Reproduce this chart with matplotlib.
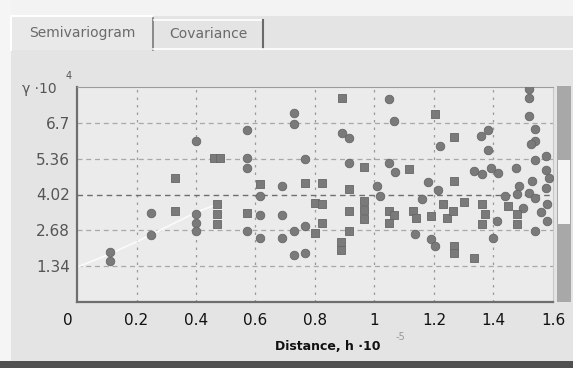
import matplotlib
matplotlib.use("Agg")
import matplotlib.pyplot as plt
from matplotlib.patches import Rectangle
import matplotlib.transforms as mtransforms

# Empirical semivariogram points (distance in 1e5, gamma in 1e4)
circ_h = [0.11, 0.11, 0.25, 0.25, 0.40, 0.40, 0.40, 0.40,
          0.57, 0.57, 0.57, 0.57, 0.615, 0.615, 0.615,
          0.69, 0.69, 0.69, 0.73, 0.73, 0.765, 0.73, 0.765, 0.73, 0.765,
          0.89, 0.915, 0.915, 1.01, 1.02, 1.05, 1.065, 1.05, 1.07,
          1.137, 1.18, 1.22, 1.215, 1.19, 1.205, 1.16,
          1.333, 1.357, 1.383, 1.383, 1.36, 1.39, 1.415, 1.413, 1.40, 1.44,
          1.475, 1.485, 1.48, 1.518, 1.518, 1.518, 1.54, 1.54, 1.525,
          1.54, 1.575, 1.575, 1.53, 1.585, 1.575, 1.52, 1.54, 1.58,
          1.58, 1.54, 1.50, 1.56]
circ_g = [1.88, 1.52, 3.33, 2.50, 6.03, 3.29, 2.96, 2.66,
          6.44, 5.39, 5.02, 2.66, 3.97, 3.25, 2.40,
          4.34, 3.26, 2.40, 7.07, 6.64, 5.35, 2.66, 2.84, 1.76, 1.83,
          6.33, 6.12, 5.20, 4.34, 3.95, 7.60, 6.75, 5.20, 4.88,
          2.54, 4.50, 5.84, 4.18, 2.36, 2.10, 3.85,
          4.90, 6.21, 6.45, 5.70, 4.79, 5.02, 4.83, 3.03, 2.40, 3.95,
          5.02, 4.34, 4.04, 7.97, 7.64, 6.96, 6.47, 6.03, 5.90,
          5.30, 5.46, 4.95, 4.53, 4.64, 4.27, 4.08, 3.89, 3.67,
          3.03, 2.66, 3.50, 3.35]

sq_h = [0.33, 0.33, 0.46, 0.48, 0.47, 0.47, 0.47, 0.57, 0.615,
        0.765, 0.80, 0.825, 0.825, 0.825, 0.80,
        0.89, 0.915, 0.915, 0.915, 0.887, 0.887,
        0.965, 0.965, 0.965, 0.965, 1.05, 1.05, 1.065,
        1.115, 1.13, 1.14, 1.205, 1.19, 1.23, 1.245,
        1.267, 1.267, 1.265, 1.267, 1.267, 1.333, 1.30,
        1.36, 1.37, 1.36, 1.45, 1.48, 1.48]
sq_g = [4.64, 3.40, 5.39, 5.39, 3.67, 3.30, 2.90, 3.33, 4.42,
        4.45, 3.70, 3.67, 4.45, 2.96, 2.58,
        7.64, 4.23, 3.40, 2.66, 2.25, 1.95,
        5.05, 3.78, 3.45, 3.12, 3.40, 2.95, 3.25,
        4.98, 3.40, 3.14, 7.04, 3.22, 3.67, 3.14,
        6.16, 4.53, 3.40, 2.10, 1.83, 1.65, 3.75,
        3.67, 3.29, 2.92, 3.60, 3.29, 2.92]

# Fitted model curve
model_h = [0.0, 0.1, 0.2, 0.3, 0.4, 0.47]
model_g = [1.30, 1.75, 2.25, 2.80, 3.35, 3.65]

yticks = [1.34, 2.68, 4.02, 5.36, 6.7]
ytick_labels = ["1.34", "2.68", "4.02", "5.36", "6.7"]
xticks = [0, 0.2, 0.4, 0.6, 0.8, 1.0, 1.2, 1.4, 1.6]
xtick_labels = ["0", "0.2", "0.4", "0.6", "0.8", "1", "1.2", "1.4", "1.6"]

W, H = 573, 368
fig = plt.figure(figsize=(W / 100, H / 100), dpi=100)
fig.patch.set_facecolor("#e4e4e4")

# window chrome drawn in pixel coords
bg = fig.add_axes([0, 0, 1, 1])
bg.set_xlim(0, W)
bg.set_ylim(H, 0)
bg.axis("off")
bg.add_patch(Rectangle((0, 0), W, 16, color="#f3f3f3", lw=0))
bg.add_patch(Rectangle((0, 0), 11, H, color="#f5f5f5", lw=0))
bg.add_patch(Rectangle((0, 361), W, 7, color="#505050", lw=0))
# tabs
bg.add_patch(Rectangle((11, 16), 141, 34, facecolor="#e9e9e9", edgecolor="none"))
bg.plot([11, 11, 152], [50, 16, 16], color="#ffffff", lw=1.5)
bg.plot([153, 153], [18, 50], color="#7a7a7a", lw=1.2)
bg.plot([154, 262], [20, 20], color="#ffffff", lw=1.2)
bg.plot([263, 263], [20, 48], color="#6a6a6a", lw=1.5)
bg.plot([153, W], [49, 49], color="#ffffff", lw=1.2)
bg.text(82, 33, "Semivariogram", ha="center", va="center", fontsize=10, color="#6a6a6a")
bg.text(208, 34, "Covariance", ha="center", va="center", fontsize=10, color="#6a6a6a")
# scroll bar
bg.add_patch(Rectangle((557, 86), 14, 216, color="#a8a8a8", lw=0))
bg.add_patch(Rectangle((558, 160), 12, 64, color="#f4f4f4", lw=0))
# axis titles
bg.text(22, 89, "γ ·10", ha="left", va="center", fontsize=10, color="#555555")
bg.text(66, 76, "4", ha="left", va="center", fontsize=7, color="#555555")
bg.text(328, 347, "Distance, h ·10", ha="center", va="center", fontsize=9,
        fontweight="bold", color="#111111")
bg.text(396, 337, "-5", ha="left", va="center", fontsize=7, color="#999999")

ax = fig.add_axes([77 / W, 1 - 302 / H, 476 / W, 215 / H])
ax.set_facecolor("#ebebeb")
ax.set_xlim(0, 1.6)
ax.set_ylim(0, 8.04)

for x in xticks[1:-1]:
    ax.axvline(x, color="#9a9a9a", lw=0.9, ls=(0, (2, 4)), zorder=1)
for y in yticks:
    if y == 4.02:
        ax.axhline(y, color="#6e6e6e", lw=1.0, ls=(0, (4, 3)), zorder=1)
    else:
        ax.axhline(y, color="#a8a8a8", lw=0.9, ls=(0, (4, 3)), zorder=1)

ax.plot(model_h, model_g, color="#fafafa", lw=1.3, zorder=2)
ax.scatter(circ_h, circ_g, s=38, marker="o", color="#7a7a7a",
           edgecolors="#666666", linewidths=0.6, zorder=3)
ax.scatter(sq_h, sq_g, s=32, marker="s", color="#7a7a7a",
           edgecolors="#666666", linewidths=0.6, zorder=3)

ax.set_xticks(xticks)
ax.set_xticklabels(xtick_labels, fontsize=11, color="#111111")
ax.set_yticks(yticks)
ax.set_yticklabels(ytick_labels, fontsize=11, color="#555555")
ax.tick_params(length=0)
ax.tick_params(axis="x", pad=8)
ax.tick_params(axis="y", pad=5)
# the origin label sits a little left of the axis
lbl0 = ax.get_xticklabels()[0]
lbl0.set_transform(lbl0.get_transform() + mtransforms.ScaledTranslation(-0.09, 0, fig.dpi_scale_trans))

ax.spines["left"].set_color("#6e6e6e")
ax.spines["bottom"].set_color("#6e6e6e")
ax.spines["left"].set_linewidth(1.6)
ax.spines["bottom"].set_linewidth(1.6)
ax.spines["top"].set_color("#9c9c9c")
ax.spines["right"].set_color("#c8c8c8")

fig.savefig("out.png", dpi=100, facecolor=fig.get_facecolor())
